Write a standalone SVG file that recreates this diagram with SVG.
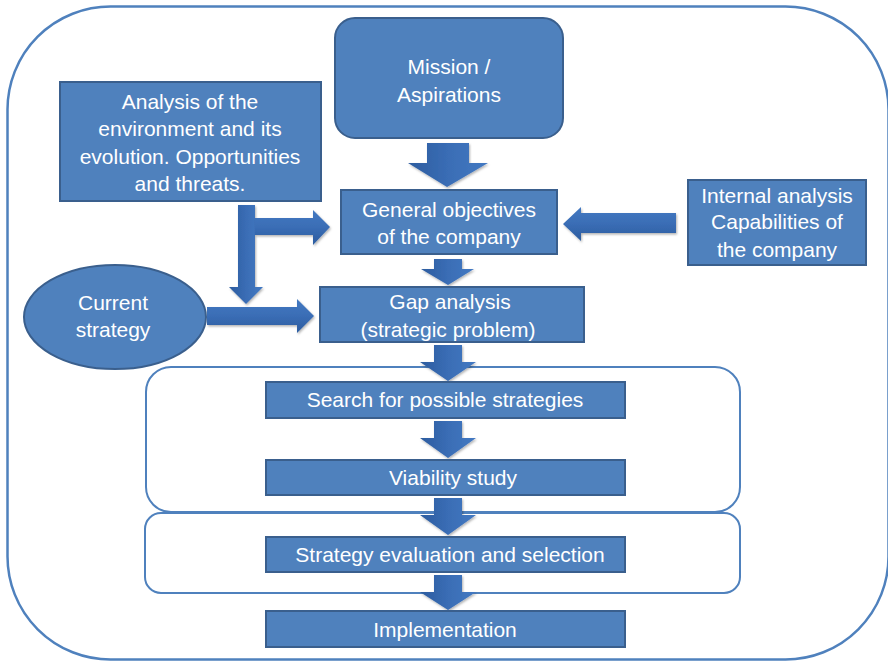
<svg xmlns="http://www.w3.org/2000/svg" width="888" height="663" viewBox="0 0 888 663">
<defs>
<style>
.box{fill:#4F81BD;stroke:#3A5F8D;stroke-width:2}
.grp{fill:#FFFFFF;stroke:#4F81BD;stroke-width:2}
.lbl{font-family:"Liberation Sans",Arial,sans-serif;font-size:21px;fill:#FFFFFF;text-anchor:middle}
.ad{fill:url(#gv);filter:url(#sh)}
.ah{fill:url(#gh);filter:url(#sh)}
</style>
<linearGradient id="gv" x1="0" y1="0" x2="1" y2="0">
<stop offset="0" stop-color="#2C5C9F"/>
<stop offset="0.5" stop-color="#3A6DB5"/>
<stop offset="1" stop-color="#4379C2"/>
</linearGradient>
<linearGradient id="gh" x1="0" y1="0" x2="0" y2="1">
<stop offset="0" stop-color="#4379C2"/>
<stop offset="0.5" stop-color="#3A6DB5"/>
<stop offset="1" stop-color="#2C5C9F"/>
</linearGradient>
<filter id="sh" x="-20%" y="-20%" width="140%" height="140%">
<feDropShadow dx="1" dy="1.5" stdDeviation="1" flood-color="#000000" flood-opacity="0.3"/>
</filter>
</defs>
<rect x="7.5" y="6.5" width="881" height="653" rx="103" ry="103" fill="#FFFFFF" stroke="#4F81BD" stroke-width="2.5"/>
<g id="group-search">
<rect class="grp" x="146" y="367" width="594" height="145" rx="25" ry="25"/>
</g>
<g id="group-evaluation">
<rect class="grp" x="145" y="513" width="595" height="80" rx="16" ry="16"/>
</g>
<g id="connectors">
<path class="ad" d="M427,143 H469 V163 H488 L447,187 L408,163 H427 Z"/>
<path class="ad" d="M434,259 H462 V269 H474 L448,285 L421,269 H434 Z"/>
<path class="ad" d="M434,345 H462 V362 H476 L448,381 L420,362 H434 Z"/>
<path class="ad" d="M434,421 H462 V438 H476 L448,458 L420,438 H434 Z"/>
<path class="ad" d="M434,498 H462 V515 H476 L448,535 L420,515 H434 Z"/>
<path class="ad" d="M434,575 H462 V592 H476 L448,610 L420,592 H434 Z"/>
<path class="ad" d="M238,205 H255 V287 H263 L246,304 L229,287 H238 Z"/>
<path class="ah" d="M255,218 H313 V210 L330,227 L313,245 V235 H255 Z"/>
<path class="ah" d="M207,307 H297 V299 L314,316 L297,333 V325 H207 Z"/>
<path class="ah" d="M676,213 H581 V207 L563,224 L581,241 V233 H676 Z"/>
</g>
<g id="mission">
<rect class="box" x="335" y="18" width="228" height="120" rx="20" ry="20"/>
<text class="lbl" x="449" y="74">Mission /</text>
<text class="lbl" x="449" y="102">Aspirations</text>
</g>
<g id="environment">
<rect class="box" x="60" y="82" width="261" height="119"/>
<text class="lbl" x="190" y="109">Analysis of the</text>
<text class="lbl" x="190" y="136">environment and its</text>
<text class="lbl" x="190" y="164">evolution. Opportunities</text>
<text class="lbl" x="190" y="191">and threats.</text>
</g>
<g id="objectives">
<rect class="box" x="341" y="190" width="216" height="64"/>
<text class="lbl" x="449" y="217">General objectives</text>
<text class="lbl" x="449" y="244">of the company</text>
</g>
<g id="internal">
<rect class="box" x="688" y="180" width="178" height="85"/>
<text class="lbl" x="777" y="203">Internal analysis</text>
<text class="lbl" x="777" y="229">Capabilities of</text>
<text class="lbl" x="777" y="257">the company</text>
</g>
<g id="current">
<ellipse class="box" cx="115" cy="317" rx="91" ry="52"/>
<text class="lbl" x="113" y="310">Current</text>
<text class="lbl" x="113" y="337">strategy</text>
</g>
<g id="gap">
<rect class="box" x="320" y="287" width="264" height="55"/>
<text class="lbl" x="450" y="309">Gap analysis</text>
<text class="lbl" x="448" y="337">(strategic problem)</text>
</g>
<g id="search">
<rect class="box" x="266" y="382" width="359" height="36"/>
<text class="lbl" x="445" y="407">Search for possible strategies</text>
</g>
<g id="viability">
<rect class="box" x="266" y="460" width="359" height="35"/>
<text class="lbl" x="453" y="485">Viability study</text>
</g>
<g id="evaluation">
<rect class="box" x="266" y="537" width="359" height="35"/>
<text class="lbl" x="450" y="562">Strategy evaluation and selection</text>
</g>
<g id="implementation">
<rect class="box" x="266" y="611" width="359" height="36"/>
<text class="lbl" x="445" y="637">Implementation</text>
</g>
</svg>
